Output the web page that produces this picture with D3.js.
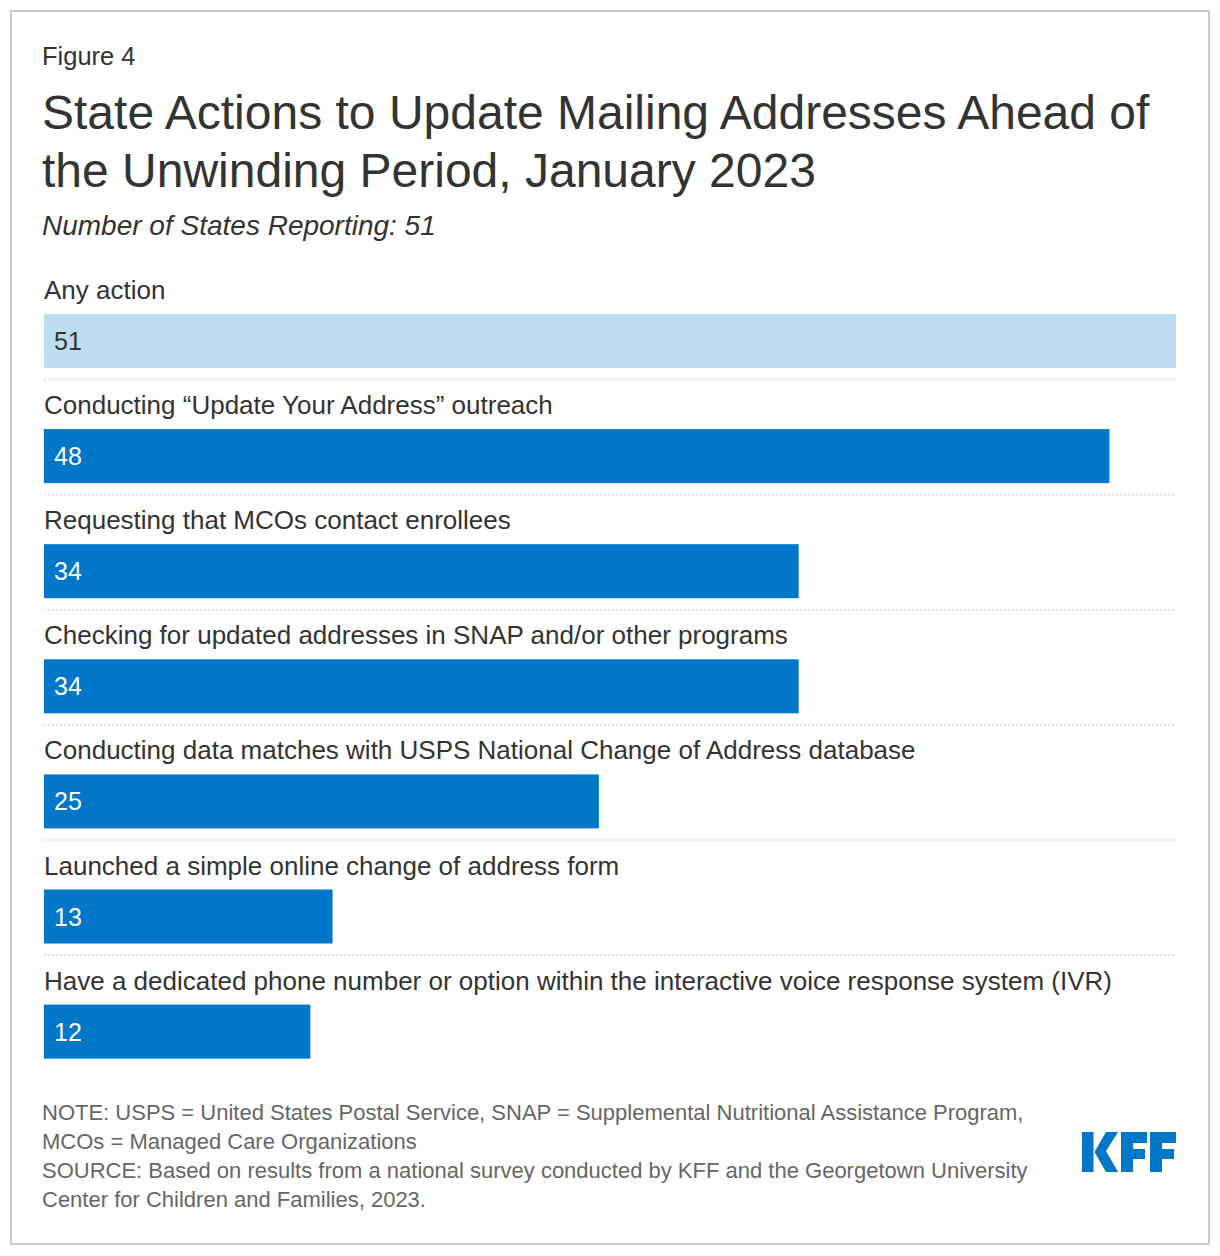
<!DOCTYPE html>
<html>
<head>
<meta charset="utf-8">
<script src="https://cdn.jsdelivr.net/npm/d3@7"></script>
<style>
  html, body { margin: 0; padding: 0; background: #fff; }
  svg { display: block; font-family: "Liberation Sans", Arial, sans-serif; }
</style>
</head>
<body>
<svg id="chart" width="1220" height="1256"></svg>
<script>
const categories = [
  "Any action",
  "Conducting \u201cUpdate Your Address\u201d outreach",
  "Requesting that MCOs contact enrollees",
  "Checking for updated addresses in SNAP and/or other programs",
  "Conducting data matches with USPS National Change of Address database",
  "Launched a simple online change of address form",
  "Have a dedicated phone number or option within the interactive voice response system (IVR)"
];
const values = [51, 48, 34, 34, 25, 13, 12];
const highlight = [true, false, false, false, false, false, false];

const figureLabel = "Figure 4";
const titleLines = ["State Actions to Update Mailing Addresses Ahead of", "the Unwinding Period, January 2023"];
const subtitle = "Number of States Reporting: 51";
const noteLines = [
  "NOTE: USPS = United States Postal Service, SNAP = Supplemental Nutritional Assistance Program,",
  "MCOs = Managed Care Organizations",
  "SOURCE: Based on results from a national survey conducted by KFF and the Georgetown University",
  "Center for Children and Families, 2023."
];

const svg = d3.select("#chart");

// frame
svg.append("rect").attr("x", 11).attr("y", 11).attr("width", 1198).attr("height", 1233)
  .attr("fill", "#fff").attr("stroke", "#cccccc").attr("stroke-width", 2);

// header
svg.append("text").attr("x", 42).attr("y", 65).attr("font-size", 25.5).attr("fill", "#333").text(figureLabel);
titleLines.forEach((t, i) => {
  svg.append("text").attr("x", 42).attr("y", 129 + i * 58).attr("font-size", 48).attr("fill", "#333").text(t);
});
svg.append("text").attr("x", 42).attr("y", 235).attr("font-size", 28).attr("font-style", "italic")
  .attr("fill", "#333").text(subtitle);

// scales
const x = d3.scaleLinear().domain([0, 51]).range([44, 1176]);
const rowTop = 265, rowH = 115.1;
const y = d3.scaleBand().domain(categories).range([rowTop, rowTop + rowH * categories.length]).padding(0);

const rows = svg.append("g").selectAll("g").data(categories).join("g")
  .attr("transform", d => `translate(0,${y(d)})`);

rows.append("text").attr("x", 44).attr("y", 34).attr("font-size", 26).attr("fill", "#333").text(d => d);

rows.append("rect")
  .attr("x", x(0)).attr("y", 49)
  .attr("width", (d, i) => x(values[i]) - x(0))
  .attr("height", 54)
  .attr("fill", (d, i) => highlight[i] ? "#bfddf0" : "#0077c8");

rows.append("text").attr("x", 54).attr("y", 85).attr("font-size", 25)
  .attr("fill", (d, i) => highlight[i] ? "#333" : "#fff")
  .text((d, i) => values[i]);

rows.filter((d, i) => i < categories.length - 1).append("line")
  .attr("x1", 44).attr("x2", 1176).attr("y1", 114.5).attr("y2", 114.5)
  .attr("stroke", "#d0d0d0").attr("stroke-width", 1.5).attr("stroke-dasharray", "2,2");

// notes
noteLines.forEach((t, i) => {
  svg.append("text").attr("x", 42).attr("y", 1120 + i * 29).attr("font-size", 22).attr("fill", "#666").text(t);
});

// KFF logo
const logo = svg.append("g").attr("transform", "translate(1082,1132)").attr("fill", "#0077c8");
logo.append("path").attr("d", "M0,0 H11.5 V40 H0 Z");
logo.append("path").attr("d", "M24,0 H36 L24,19 L36,40 H24 L12.5,20 Z");
logo.append("path").attr("d", "M39,0 H65 V11 H51 V17 H63 V27 H51 V40 H39 Z");
logo.append("path").attr("d", "M68,0 H94 V11 H80 V17 H92 V27 H80 V40 H68 Z");
</script>
</body>
</html>
